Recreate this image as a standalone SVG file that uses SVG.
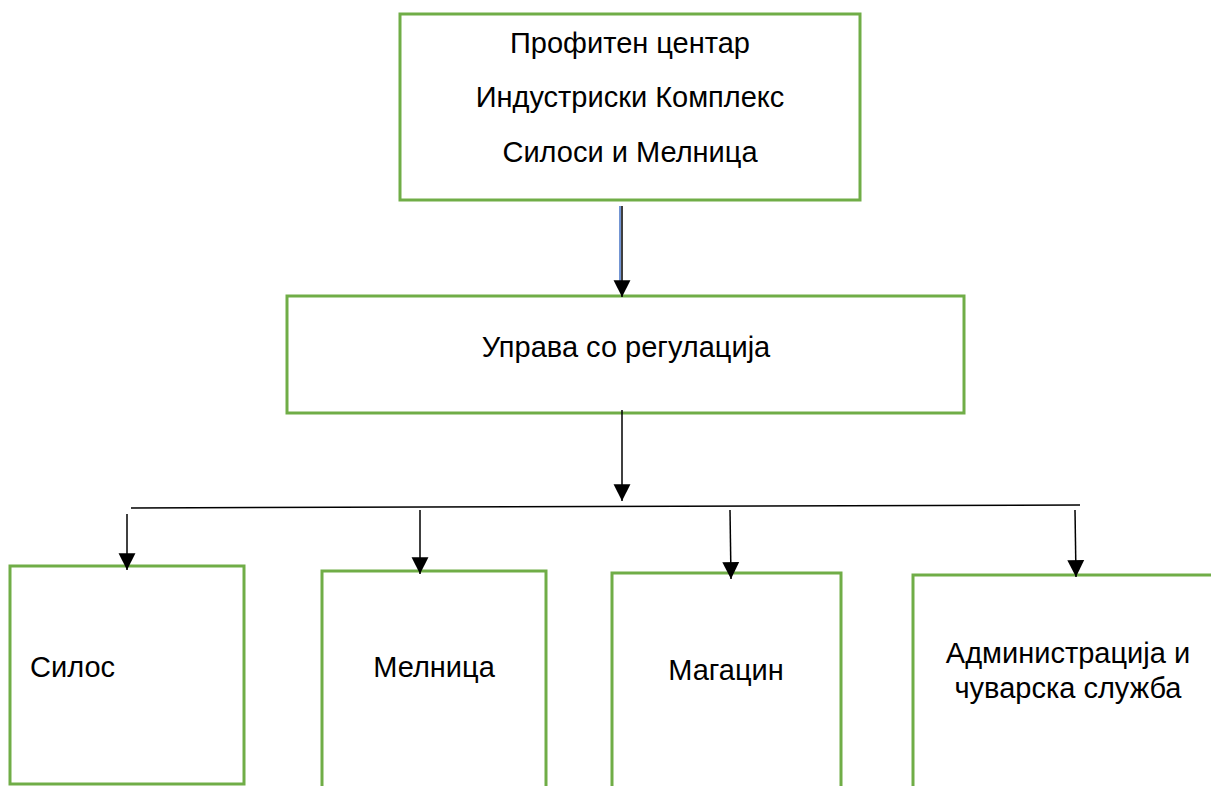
<svg xmlns="http://www.w3.org/2000/svg" width="1211" height="786" viewBox="0 0 1211 786">
<style>
.box{fill:#fff;stroke:#70AD47;stroke-width:3}
.t{font-family:"Liberation Sans",Arial,sans-serif;font-size:29px;fill:#000}
.c{text-anchor:middle}
.ln{stroke:#000;stroke-width:1.5;fill:none}
</style>
<defs>
<marker id="ah2" markerUnits="userSpaceOnUse" markerWidth="18" markerHeight="18" viewBox="0 0 16 16" refX="15" refY="8" orient="auto">
<path d="M0,0.5 L15,8 L0,15.5 Z" fill="#000"/>
</marker>
</defs>
<rect width="1211" height="786" fill="#fff"/>
<g id="n-top">
<rect class="box" x="400" y="14" width="460" height="186"/>
<text class="t c" x="630" y="53">Профитен центар</text>
<text class="t c" x="630" y="107">Индустриски Комплекс</text>
<text class="t c" x="630" y="162">Силоси и Мелница</text>
</g>
<g id="n-uprava">
<rect class="box" x="287" y="296" width="677" height="117"/>
<text class="t c" x="626" y="357">Управа со регулација</text>
</g>
<g id="n-silos">
<rect class="box" x="10" y="566" width="234" height="218"/>
<text class="t" x="30" y="677">Силос</text>
</g>
<g id="n-melnica">
<path class="box" d="M322,790 V571 H546 V790"/>
<text class="t c" x="434" y="677">Мелница</text>
</g>
<g id="n-magacin">
<path class="box" d="M612,790 V573 H841 V790"/>
<text class="t c" x="726" y="680">Магацин</text>
</g>
<g id="n-admin">
<path class="box" d="M913,790 V575 H1215"/>
<text class="t c" x="1068" y="663">Администрација и</text>
<text class="t c" x="1068" y="698">чуварска служба</text>
</g>
<g id="connectors">
<line x1="620" y1="206" x2="620" y2="288" stroke="#4472C4" stroke-width="1.5"/>
<line class="ln" x1="622" y1="206" x2="622" y2="297" marker-end="url(#ah2)"/>
<line class="ln" x1="622" y1="410" x2="622" y2="501" marker-end="url(#ah2)"/>
<line class="ln" x1="131" y1="508" x2="1080" y2="505"/>
<line class="ln" x1="127" y1="514" x2="127" y2="570" marker-end="url(#ah2)"/>
<line class="ln" x1="420" y1="510" x2="420" y2="574" marker-end="url(#ah2)"/>
<line class="ln" x1="730" y1="510" x2="731" y2="579" marker-end="url(#ah2)"/>
<line class="ln" x1="1075" y1="510" x2="1076" y2="577" marker-end="url(#ah2)"/>
</g>
</svg>
